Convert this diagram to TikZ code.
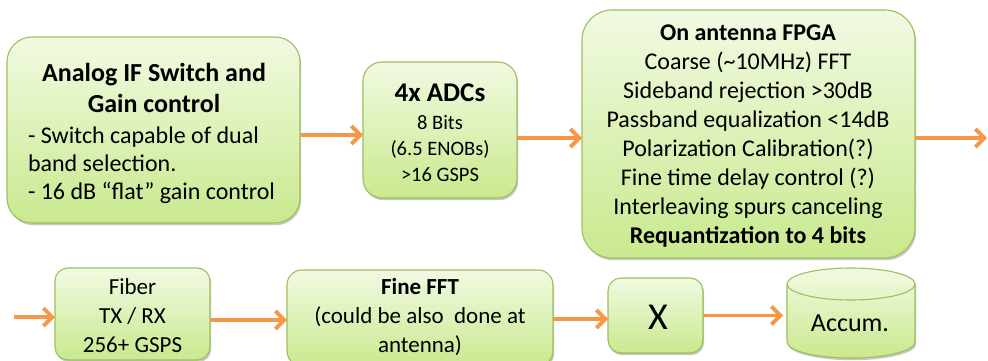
\documentclass[tikz,border=0pt]{standalone}
\usepackage{fontspec}
\setmainfont{Carlito}
\usetikzlibrary{arrows.meta,shadows}
\definecolor{boxtop}{HTML}{F1FAE2}
\definecolor{boxbot}{HTML}{C9E98E}
\definecolor{boxborder}{HTML}{9DBF5C}
\definecolor{arrorange}{HTML}{F79646}
\tikzset{
  shade/.style={draw=boxborder, line width=1.1pt, top color=boxtop, bottom color=boxbot,
    drop shadow={shadow xshift=1.2pt, shadow yshift=-2.2pt, opacity=0.22, fill=black}},
  box/.style={shade, inner sep=0pt, outer sep=0pt, rectangle},
  txt/.style={inner sep=0pt, outer sep=0pt, align=center, text=black},
  arr/.style={draw=arrorange, line width=3.8pt, -{Straight Barb[length=9pt,width=18pt]}},
}
\newcommand{\fs}[2]{\fontsize{#1}{#2}\selectfont}
\begin{document}
\begin{tikzpicture}[x=1pt,y=-1pt]
\useasboundingbox (0,0) rectangle (988,361);
% top row
\node[box, rounded corners=25pt, minimum width=293pt, minimum height=186pt] (analog) at (153.5,130) {};
\node[txt, font=\fs{26}{31}\bfseries] (analogtitle) at (154,87.5) {Analog IF Switch and\\Gain control};
\node[txt, align=left, anchor=west, font=\fs{24}{28}] (analogbody) at (28,165) {- Switch capable of dual\\band selection.\\- 16 dB “flat” gain control};

\node[box, rounded corners=19pt, minimum width=154pt, minimum height=136pt] (adc) at (440,130) {};
\node[txt, font=\fs{27}{31}\bfseries] (adctitle) at (440,93) {4x ADCs};
\node[txt, font=\fs{20.5}{26}] (adcbody) at (440,149) {8 Bits\\(6.5 ENOBs)\\>16 GSPS};

\node[box, rounded corners=30pt, minimum width=333pt, minimum height=248pt] (fpga) at (748.5,134) {};
\node[txt, font=\fs{24}{28.9}] (fpgatext) at (748,136) {\textbf{On antenna FPGA}\\Coarse (\char`\~10MHz) FFT\\Sideband rejection >30dB\\Passband equalization <14dB\\Polarization Calibration(?)\\Fine time delay control (?)\\Interleaving spurs canceling\\\textbf{Requantization to 4 bits}};
\coordinate (out) at (987,138);

% bottom row
\coordinate (in) at (14,317);
\node[box, rounded corners=13pt, minimum width=155pt, minimum height=92pt] (fiber) at (132.5,314) {};
\node[txt, font=\fs{23}{29}] (fibertext) at (132.5,316) {Fiber\\TX / RX\\256+ GSPS};

\node[box, rounded corners=15pt, minimum width=266pt, minimum height=96pt] (fft) at (420,318) {};
\node[txt, font=\fs{23}{29}] (ffttext) at (420,317.5) {\textbf{Fine FFT}\\(could be also \ done at\\antenna)};

\node[box, rounded corners=13pt, minimum width=95pt, minimum height=75pt] (mult) at (655.5,315.5) {};
\node[txt, font=\fs{38}{40}] (multtext) at (658,317) {X};

% accumulator cylinder
\node[inner sep=0pt, outer sep=0pt, minimum width=128pt, minimum height=90pt] (accum) at (851,313) {};
\path[shade] (787,284) -- (787,342) arc[start angle=180, end angle=360, x radius=64pt, y radius=16pt]
  -- (915,284) arc[start angle=0, end angle=180, x radius=64pt, y radius=16pt] -- cycle;
\draw[draw=boxborder, line width=1.1pt] (787,284) arc[start angle=180, end angle=360, x radius=64pt, y radius=16pt];
\node[txt, font=\fs{26}{30}] (accumtext) at (850,323) {Accum.};

% arrows
\draw[arr] ([yshift=-5pt]analog.east) -- ([yshift=-5pt]adc.west);
\draw[arr] ([yshift=-4pt]fpga.west -| adc.east) -- ([yshift=-4pt]fpga.west);
\draw[arr] ([yshift=-4pt]fpga.east) -- (out);
\draw[arr] (in) -- (in -| fiber.west);
\draw[arr] ([yshift=-6pt]fiber.east) -- ([yshift=-6pt]fiber.east -| fft.west);
\draw[arr] ([yshift=-1pt]fft.east) -- ([yshift=-1pt]fft.east -| mult.west);
\draw[arr] (mult.east) -- ([xshift=-4pt]mult.east -| accum.west);
\end{tikzpicture}
\end{document}
